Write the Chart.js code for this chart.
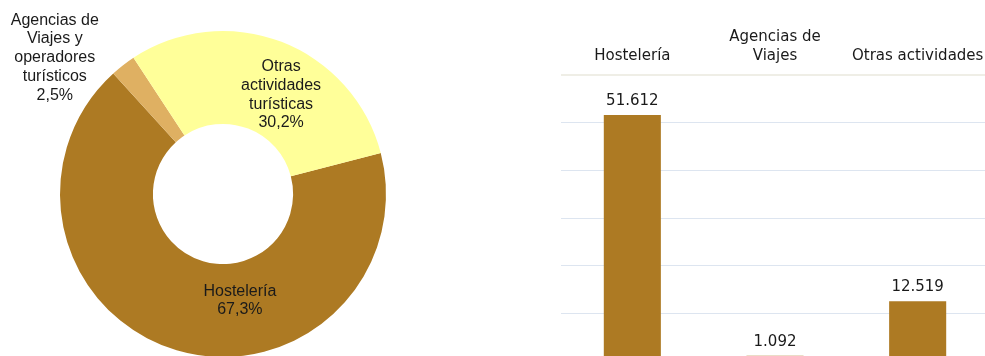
<!DOCTYPE html>
<html>
<head>
<meta charset="utf-8">
<script src="https://cdn.jsdelivr.net/npm/chart.js@4/dist/chart.umd.min.js"></script>
<style>
  html, body { margin: 0; padding: 0; width: 985px; height: 356px; overflow: hidden; background: #fff; }
  #donut { position: absolute; left: 0; top: 0; }
  #bars { position: absolute; left: 561px; top: 0; }
</style>
</head>
<body>
<canvas id="donut" width="446" height="388"></canvas>
<canvas id="bars" width="428" height="361"></canvas>
<script>
// Share of tourism activity by sector (%)
const shareLabels = [
  ["Hostelería"],
  ["Agencias de", "Viajes y", "operadores", "turísticos"],
  ["Otras", "actividades", "turísticas"]
];
const shareValues = [67.3, 2.5, 30.2];
const shareColors = ["#AD7A23", "#DFB062", "#FFFF99"];

// Totals by sector
const barCategories = [["Hostelería"], ["Agencias de", "Viajes"], ["Otras actividades"]];
const barValues = [51612, 1092, 12519];
const barAxisMax = 60000;
const barAxisStep = 10000;

// Where each doughnut label sits: angle clockwise from 12 o'clock, distance as a fraction of the outer radius
const labelPlacement = [
  { angle: 171, radius: 0.663 },
  { angle: 309, radius: 1.328 },
  { angle: 30.4, radius: 0.704 }
];

const pct = v => v.toFixed(1).replace(".", ",") + "%";
const thousands = v => String(v).replace(/\B(?=(\d{3})+(?!\d))/g, ".");

const shareLabelPlugin = {
  id: "shareLabels",
  afterDatasetsDraw(chart) {
    const ctx = chart.ctx;
    const meta = chart.getDatasetMeta(0);
    ctx.save();
    ctx.font = '16px "Liberation Sans", Arial, sans-serif';
    ctx.fillStyle = "#1a1a1a";
    ctx.textAlign = "center";
    ctx.textBaseline = "middle";
    const lh = 18.7;
    meta.data.forEach((arc, i) => {
      const { x, y, outerRadius } = arc.getProps(["x", "y", "outerRadius"], true);
      const p = labelPlacement[i];
      const a = (p.angle - 90) * Math.PI / 180;
      const cx = x + Math.cos(a) * outerRadius * p.radius;
      const cy = y + Math.sin(a) * outerRadius * p.radius;
      const lines = [...shareLabels[i], pct(shareValues[i])];
      lines.forEach((t, k) => ctx.fillText(t, cx, cy + (k - (lines.length - 1) / 2) * lh));
    });
    ctx.restore();
  }
};

const valueLabelPlugin = {
  id: "valueLabels",
  afterDatasetsDraw(chart) {
    const ctx = chart.ctx;
    const meta = chart.getDatasetMeta(0);
    ctx.save();
    ctx.font = '15px "DejaVu Sans", Verdana, sans-serif';
    ctx.fillStyle = "#1a1a1a";
    ctx.textAlign = "center";
    ctx.textBaseline = "alphabetic";
    meta.data.forEach((bar, i) => {
      const { x, y } = bar.getProps(["x", "y"], true);
      ctx.fillText(thousands(barValues[i]), x, y - 10);
    });
    ctx.restore();
  }
};

new Chart(document.getElementById("donut"), {
  type: "doughnut",
  data: {
    labels: shareLabels.map(l => l.join(" ")),
    datasets: [{
      data: shareValues,
      backgroundColor: shareColors,
      borderWidth: 0
    }]
  },
  options: {
    responsive: false,
    animation: false,
    rotation: 75.4,
    cutout: "43%",
    layout: { padding: { top: 31, bottom: 31, left: 0, right: 0 } },
    plugins: { legend: { display: false }, tooltip: { enabled: false } }
  },
  plugins: [shareLabelPlugin]
});

new Chart(document.getElementById("bars"), {
  type: "bar",
  data: {
    labels: barCategories,
    datasets: [{
      data: barValues,
      backgroundColor: "#AD7A23",
      borderWidth: 0,
      categoryPercentage: 1,
      barPercentage: 0.4
    }]
  },
  options: {
    responsive: false,
    animation: false,
    layout: { padding: 0 },
    plugins: { legend: { display: false }, tooltip: { enabled: false } },
    scales: {
      x: {
        position: "top",
        grid: { display: true, drawOnChartArea: false, drawTicks: true, tickLength: 10, color: "rgba(0,0,0,0)" },
        border: { display: false },
        ticks: {
          padding: 0,
          color: "#1a1a1a",
          maxRotation: 0,
          autoSkip: false,
          font: { family: '"DejaVu Sans", Verdana, sans-serif', size: 15, lineHeight: 1.25 }
        },
        afterFit(scale) { scale.height = 75; }
      },
      y: {
        min: 0,
        max: barAxisMax,
        border: { display: false },
        ticks: { display: false, stepSize: barAxisStep },
        grid: {
          drawTicks: false,
          color: c => (c.tick && c.tick.value === barAxisMax) ? "#efeee6" : "#dde5f0",
          lineWidth: c => (c.tick && c.tick.value === barAxisMax) ? 2 : 1
        }
      }
    }
  },
  plugins: [valueLabelPlugin]
});
</script>
</body>
</html>
